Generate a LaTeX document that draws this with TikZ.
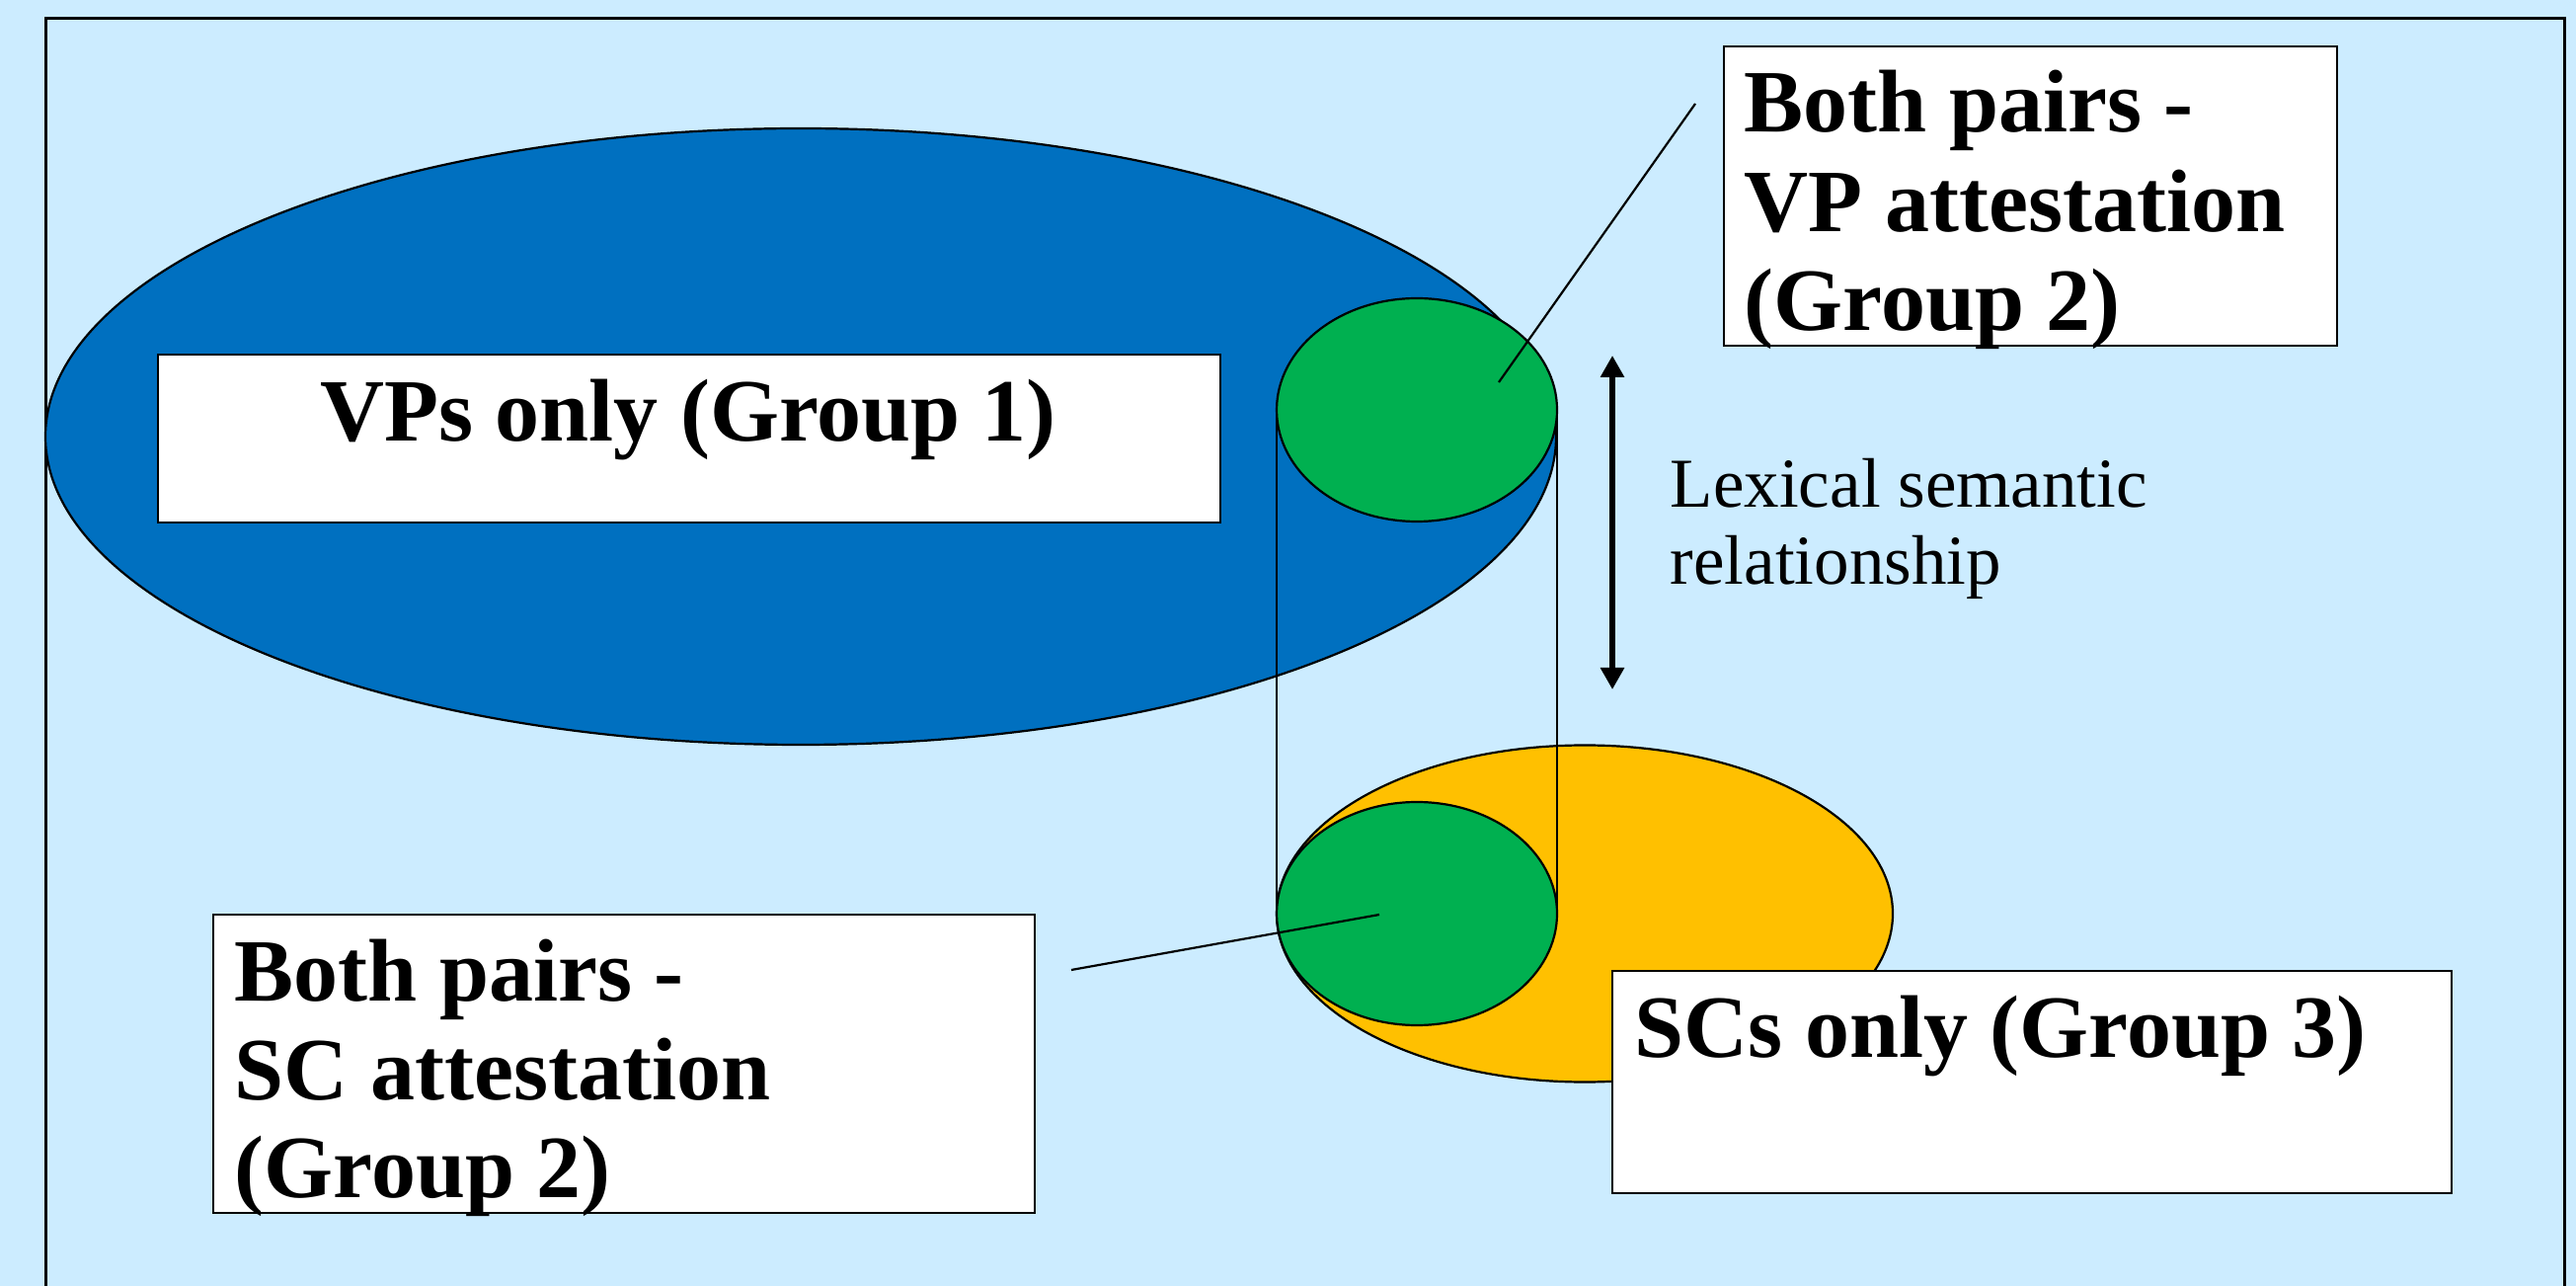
\documentclass[tikz,border=0pt]{standalone}
\usepackage{fontspec}
\setmainfont{Liberation Serif}
\usetikzlibrary{shapes.geometric,arrows.meta}
\definecolor{bgblue}{HTML}{CCECFF}
\definecolor{vpblue}{HTML}{0070C0}
\definecolor{pairgreen}{HTML}{00B050}
\definecolor{scorange}{HTML}{FFC000}
\begin{document}
\begin{tikzpicture}[x=0.25pt,y=-0.25pt,
  blob/.style={ellipse, draw=black, line width=0.55pt, inner sep=0pt, outer sep=0pt},
  box/.style={rectangle, draw=black, line width=0.6pt, fill=white, inner sep=0pt, outer sep=0pt, anchor=north west},
  boldtxt/.style={inner sep=0pt, anchor=base west, font=\fontsize{22.5}{25}\selectfont\bfseries},
  plaintxt/.style={inner sep=0pt, anchor=base west, font=\fontsize{17.75}{19.5}\selectfont},
  thinline/.style={draw=black, line width=0.55pt}]
\useasboundingbox (0,0) rectangle (2609,1302);
\fill[bgblue] (0,0) rectangle (2609,1302);
\draw[line width=0.75pt] (46,1302) |- (2597,19) -- (2597,1302);
% sets
\node[blob, fill=vpblue, minimum width=382.5pt, minimum height=156pt] (vpset) at (811,442) {};
\node[blob, fill=scorange, minimum width=156pt, minimum height=85.25pt] (scset) at (1605,925) {};
\node[blob, fill=pairgreen, minimum width=71pt, minimum height=56.5pt] (toppair) at (1435,415) {};
\draw[thinline] (toppair.west) -- (1293,925) coordinate (botw);
\draw[thinline] (toppair.east) -- (1577,925) coordinate (bote);
\node[blob, fill=pairgreen, minimum width=71pt, minimum height=56.5pt] (botpair) at (1435,925) {};
% arrow
\coordinate (arrtop) at (1633,360);
\coordinate (arrbot) at (1633,698);
\draw[line width=1.3pt, {Triangle[width=5.8pt,length=5.5pt]}-{Triangle[width=5.8pt,length=5.5pt]}] (arrtop) -- (arrbot);
% boxes
\node[box, minimum width=269pt, minimum height=42.5pt] (vpbox) at (160,359) {};
\node[box, minimum width=155.25pt, minimum height=75.75pt] (vpattbox) at (1746,47) {};
\node[box, minimum width=208pt, minimum height=75.5pt] (scattbox) at (216,926) {};
\node[box, minimum width=212.5pt, minimum height=56.25pt] (scbox) at (1633,983) {};
% texts
\node[boldtxt, anchor=base] (vptxt) at (697,447) {VPs only (Group 1)};
\node[boldtxt] (vpa1) at (1766,134) {Both pairs -};
\node[boldtxt] (vpa2) at (1766,235) {VP attestation};
\node[boldtxt] (vpa3) at (1766,335) {(Group 2)};
\node[boldtxt] (sca1) at (237,1013) {Both pairs -};
\node[boldtxt] (sca2) at (237,1113) {SC attestation};
\node[boldtxt] (sca3) at (237,1212) {(Group 2)};
\node[boldtxt] (sctxt) at (1655,1070) {SCs only (Group 3)};
\node[plaintxt] (lex1) at (1691,514) {Lexical semantic};
\node[plaintxt] (lex2) at (1691,592) {relationship};
% leader lines
\coordinate (lead1a) at (1717,105);
\coordinate (lead1b) at (1518,387);
\coordinate (lead2a) at (1085,982);
\coordinate (lead2b) at (1397,926);
\draw[thinline] (lead1a) -- (lead1b);
\draw[thinline] (lead2a) -- (lead2b);
\end{tikzpicture}
\end{document}
